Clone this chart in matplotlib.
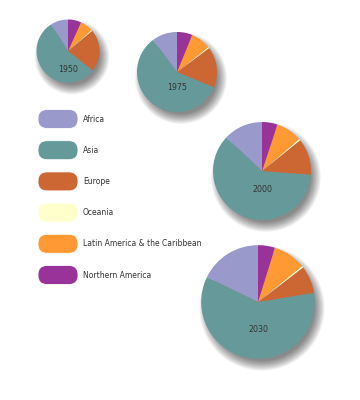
import matplotlib.pyplot as plt
import numpy as np
from matplotlib.patches import Circle, FancyBboxPatch

# Daten (Anteile an der Weltbevölkerung in %, Gesamtbevölkerung in Mrd.)
regions = ["Africa", "Asia", "Europe", "Oceania",
           "Latin America & the Caribbean", "Northern America"]
colors = ["#9999cc", "#669999", "#cc6633", "#ffffcc", "#ff9933", "#993399"]
years = ["1950", "1975", "2000", "2030"]
share_1950 = [8.9, 55.6, 21.6, 0.5, 6.6, 6.8]
share_1975 = [10.2, 58.6, 16.4, 0.5, 8.1, 6.2]
share_2000 = [13.0, 60.8, 12.0, 0.5, 8.6, 5.1]
share_2030 = [17.8, 59.8, 7.8, 0.5, 9.3, 4.8]
population = [2.52, 4.07, 6.09, 8.20]

shares = [share_1950, share_1975, share_2000, share_2030]

# Layout in Pixeln (y nach oben)
centers = [(68, 349), (177, 328), (262, 229), (258, 98)]
label_dy = [18, 16, 19, 27]
scale = 31.5 / np.sqrt(population[0])

fig = plt.figure(figsize=(3.6, 4.0), dpi=100)
ax = fig.add_axes([0, 0, 1, 1])

for share, year, pop, (cx, cy), dy in zip(shares, years, population, centers, label_dy):
    r = scale * np.sqrt(pop)
    # weicher Schatten nach rechts unten
    for i in range(18):
        ax.add_patch(Circle((cx + 4, cy - 6), r + 6 - i * 0.6,
                            facecolor="black", edgecolor="none",
                            alpha=0.032, zorder=1))
    wedges, _ = ax.pie(share, colors=colors, startangle=90, counterclock=True,
                       center=(cx, cy), radius=r, frame=True,
                       wedgeprops=dict(linewidth=0, antialiased=True))
    for w in wedges:
        w.set_zorder(2)
    ax.text(cx, cy - dy, year, ha="center", va="center",
            fontsize=5.7, color="#333333", zorder=3)

# Legende mit abgerundeten Kästchen
for i, (name, col) in enumerate(zip(regions, colors)):
    y = 400 - (119 + i * 31.2)
    ax.add_patch(FancyBboxPatch((38, y - 9.5), 40, 19,
                                boxstyle="round,pad=0,rounding_size=9",
                                facecolor=col, edgecolor="white",
                                linewidth=0.6, alpha=1, zorder=2))
    ax.text(83, y, name, ha="left", va="center", fontsize=5.5,
            color="#333333")

ax.set_xlim(0, 360)
ax.set_ylim(0, 400)
ax.set_aspect("equal")
ax.axis("off")

fig.savefig("out.png", dpi=100, facecolor="white")
